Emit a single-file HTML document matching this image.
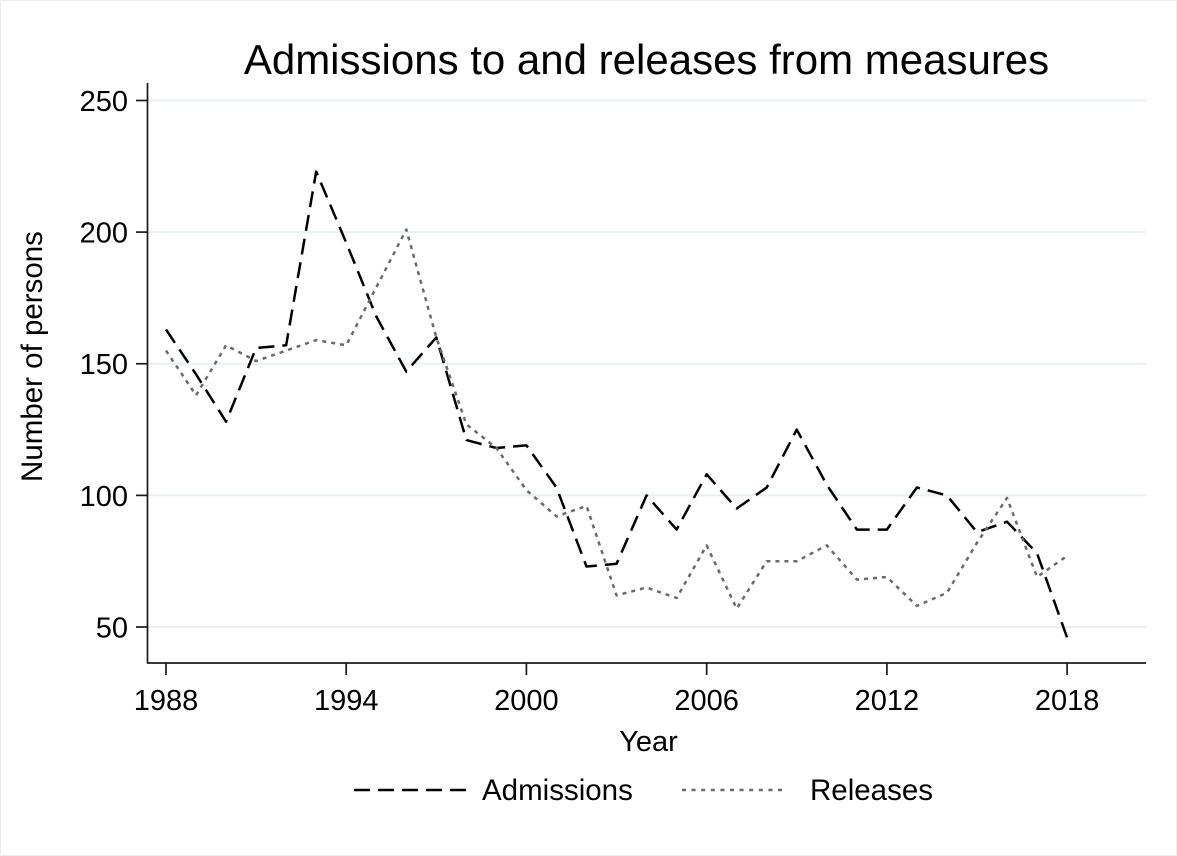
<!DOCTYPE html>
<html>
<head>
<meta charset="utf-8">
<style>
  html, body { margin: 0; padding: 0; background: #ffffff; }
  svg { display: block; }
  text { font-family: "Liberation Sans", Arial, sans-serif; fill: #000; }
</style>
</head>
<body>
<svg width="1177" height="856" viewBox="0 0 1177 856" xmlns="http://www.w3.org/2000/svg">
  <rect x="0" y="0" width="1177" height="856" fill="#ffffff"/>
  <rect x="0.5" y="0.5" width="1176" height="855" fill="none" stroke="#ececec" stroke-width="1"/>

  <!-- Title -->
  <text x="646.5" y="74" font-size="42" text-anchor="middle">Admissions to and releases from measures</text>

  <!-- Gridlines -->
  <g stroke="#e8f0f2" stroke-width="2">
    <line x1="148" y1="100.5" x2="1146" y2="100.5"/>
    <line x1="148" y1="232.1" x2="1146" y2="232.1"/>
    <line x1="148" y1="363.75" x2="1146" y2="363.75"/>
    <line x1="148" y1="495.4" x2="1146" y2="495.4"/>
    <line x1="148" y1="627" x2="1146" y2="627"/>
  </g>

  <!-- Axes -->
  <g stroke="#1a1a1a" stroke-width="1.7" fill="none">
    <line x1="147.5" y1="83" x2="147.5" y2="663.5"/>
    <line x1="147" y1="663" x2="1146" y2="663"/>
    <!-- y ticks -->
    <line x1="136" y1="100.5" x2="147.5" y2="100.5"/>
    <line x1="136" y1="232.1" x2="147.5" y2="232.1"/>
    <line x1="136" y1="363.75" x2="147.5" y2="363.75"/>
    <line x1="136" y1="495.4" x2="147.5" y2="495.4"/>
    <line x1="136" y1="627" x2="147.5" y2="627"/>
    <!-- x ticks -->
    <line x1="166" y1="663" x2="166" y2="675"/>
    <line x1="346.2" y1="663" x2="346.2" y2="675"/>
    <line x1="526.4" y1="663" x2="526.4" y2="675"/>
    <line x1="706.65" y1="663" x2="706.65" y2="675"/>
    <line x1="886.9" y1="663" x2="886.9" y2="675"/>
    <line x1="1067.1" y1="663" x2="1067.1" y2="675"/>
  </g>

  <!-- Y tick labels -->
  <g font-size="29" text-anchor="end">
    <text x="128" y="111">250</text>
    <text x="128" y="242.6">200</text>
    <text x="128" y="374.2">150</text>
    <text x="128" y="505.9">100</text>
    <text x="128" y="637.5">50</text>
  </g>

  <!-- X tick labels -->
  <g font-size="29" text-anchor="middle">
    <text x="166" y="710">1988</text>
    <text x="346.2" y="710">1994</text>
    <text x="526.4" y="710">2000</text>
    <text x="706.65" y="710">2006</text>
    <text x="886.9" y="710">2012</text>
    <text x="1067.1" y="710">2018</text>
  </g>

  <!-- Axis titles -->
  <text x="648.5" y="751" font-size="29" text-anchor="middle">Year</text>
  <text transform="translate(42,356.5) rotate(-90)" font-size="29.5" text-anchor="middle">Number of persons</text>

  <!-- Admissions series -->
  <polyline fill="none" stroke="#000000" stroke-width="2.5" stroke-dasharray="16 8" stroke-linejoin="round"
    points="166,329.5 196.04,374.3 226.07,421.7 256.11,348.0 286.14,345.3 316.18,171.6 346.22,242.7 376.25,316.4 406.29,371.6 436.32,337.4 466.36,440.1 496.40,448.0 526.43,445.4 556.47,487.5 586.50,566.5 616.54,563.8 646.58,495.4 676.61,529.6 706.65,474.3 736.68,508.5 766.72,487.5 796.76,429.6 826.79,484.8 856.83,529.6 886.86,529.6 916.90,487.5 946.94,495.4 976.97,532.2 1007.01,521.7 1037.04,553.3 1067.08,637.5"/>

  <!-- Releases series -->
  <polyline fill="none" stroke="#6a6a6a" stroke-width="2.5" stroke-dasharray="4 5" stroke-linejoin="round"
    points="166,350.6 196.04,395.3 226.07,345.3 256.11,361.1 286.14,350.6 316.18,340.1 346.22,345.3 376.25,287.4 406.29,229.5 436.32,337.4 466.36,424.3 496.40,448.0 526.43,490.1 556.47,516.4 586.50,505.9 616.54,595.4 646.58,587.5 676.61,598.0 706.65,545.4 736.68,608.6 766.72,561.2 796.76,561.2 826.79,545.4 856.83,579.6 886.86,577.0 916.90,605.9 946.94,592.8 976.97,542.8 1007.01,498.0 1037.04,577.0 1067.08,555.9"/>

  <!-- Legend -->
  <line x1="354" y1="790" x2="467" y2="790" stroke="#000000" stroke-width="2.5" stroke-dasharray="16 8"/>
  <text x="482" y="800" font-size="29.5">Admissions</text>
  <line x1="682" y1="790" x2="782" y2="790" stroke="#6a6a6a" stroke-width="2.5" stroke-dasharray="4 5.6"/>
  <text x="810" y="800" font-size="29.5">Releases</text>
</svg>
</body>
</html>
